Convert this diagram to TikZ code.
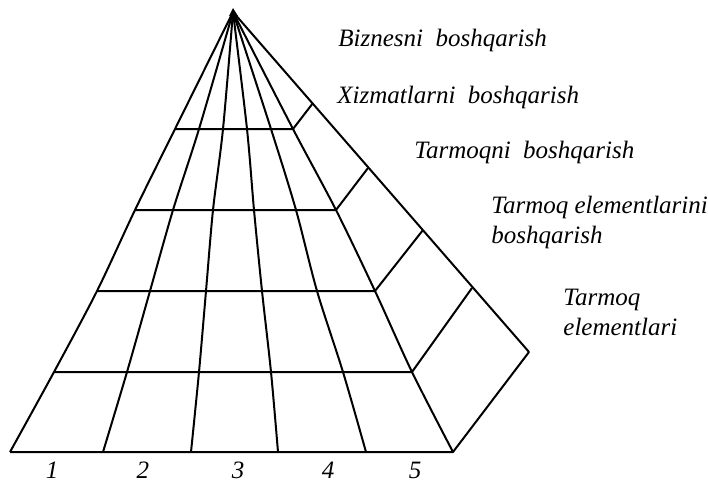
\documentclass[tikz,border=0pt]{standalone}
\usepackage{fontspec}
\setmainfont{Liberation Serif}
\begin{document}
\begin{tikzpicture}[x=0.5pt, y=-0.5pt,
    gridstyle/.style={line width=1pt, line join=round},
    levelstyle/.style={anchor=west, align=left, inner sep=0pt, font=\fontsize{12.5}{15}\selectfont\itshape},
    numstyle/.style={inner sep=0pt, font=\fontsize{12.5}{15}\selectfont\itshape}]
  \useasboundingbox (0,0) rectangle (708,484);
  \coordinate (A) at (233,12);
  \foreach \r/\y/\xs in {1/129/{175,199,223,247,271,293},
                         2/210/{135,173,213,254,296,336},
                         3/291/{97,150,206,262,317,375},
                         4/372/{54,127,199,271,343,412},
                         5/452/{10,103,191,278,366,453}}
    \foreach \x [count=\c from 0] in \xs
      \coordinate (P\r\c) at (\x,\y);
  \coordinate (Q1) at (313,103);
  \coordinate (Q2) at (368,168);
  \coordinate (Q3) at (423,230);
  \coordinate (Q4) at (472,288);
  \coordinate (Q5) at (529,352);
  \foreach \c in {0,...,5}
    \draw[gridstyle] plot[smooth, tension=0.5] coordinates {(A) (P1\c) (P2\c) (P3\c) (P4\c) (P5\c)};
  \foreach \r in {1,...,5}
    \draw[gridstyle] (P\r0) -- (P\r5) -- (Q\r);
  \draw[gridstyle] (A) -- (Q5);
  \fill (A) ++(-4,4) -- ++(4,-8) -- ++(5,8) -- cycle;
  \node[levelstyle] (biznes) at (338,40) {Biznesni \ boshqarish};
  \node[levelstyle] (xizmat) at (337,97) {Xizmatlarni \ boshqarish};
  \node[levelstyle] (tarmoq) at (414,152) {Tarmoqni \ boshqarish};
  \node[levelstyle] (elemb) at (491,222) {Tarmoq elementlarini\\boshqarish};
  \node[levelstyle] (elem) at (563,312) {Tarmoq\\elementlari};
  \node[numstyle] (n1) at (52,470) {1};
  \node[numstyle] (n2) at (143,470) {2};
  \node[numstyle] (n3) at (238,470) {3};
  \node[numstyle] (n4) at (328,470) {4};
  \node[numstyle] (n5) at (415,470) {5};
\end{tikzpicture}
\end{document}
